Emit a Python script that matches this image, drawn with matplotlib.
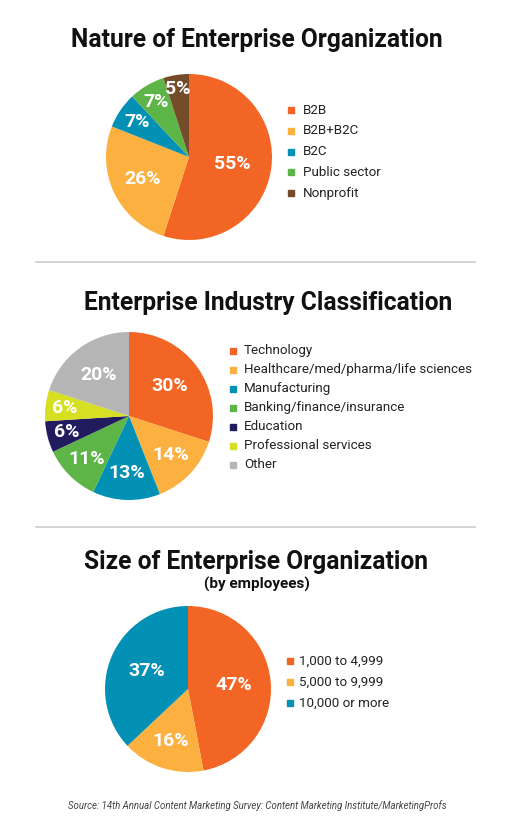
import numpy as np
import matplotlib.pyplot as plt

plt.rcParams['font.family'] = ['Roboto', 'DejaVu Sans']

# data
nature_labels = ['B2B', 'B2B+B2C', 'B2C', 'Public sector', 'Nonprofit']
nature_values = [55, 26, 7, 7, 5]

industry_labels = ['Technology', 'Healthcare/med/pharma/life sciences', 'Manufacturing',
                   'Banking/finance/insurance', 'Education', 'Professional services', 'Other']
industry_values = [30, 14, 13, 11, 6, 6, 20]

size_labels = ['1,000 to 4,999', '5,000 to 9,999', '10,000 or more']
size_values = [47, 16, 37]

ORANGE = '#F26524'
YELLOW = '#FBB040'
BLUE = '#0291B5'
GREEN = '#5DB447'
BROWN = '#754C29'
NAVY = '#201C5E'
LIME = '#D7DF23'
GRAY = '#B5B5B5'

W, H = 506, 830
fig = plt.figure(figsize=(W / 100, H / 100), dpi=100)
ax = fig.add_axes([0, 0, 1, 1])
ax.set_xlim(0, W)
ax.set_ylim(0, H)
ax.set_aspect('equal')
ax.axis('off')


def Y(y):
    # pixel row (from top) -> data y
    return H - y


def draw_pie(values, colors, cx, cy, r, label_dist):
    wedges, _ = ax.pie(values, colors=colors, startangle=90, counterclock=False,
                       center=(cx, Y(cy)), radius=r, frame=True,
                       wedgeprops=dict(linewidth=0))
    for w, v, d in zip(wedges, values, label_dist):
        th = np.deg2rad((w.theta1 + w.theta2) / 2)
        ax.text(cx + r * d * np.cos(th), Y(cy) + r * d * np.sin(th), f'{v}%',
                ha='center', va='center', color='white', fontsize=14,
                fontweight='bold')
    return wedges


def draw_legend(labels, colors, mx, tx, y0, dy):
    for i, (lab, c) in enumerate(zip(labels, colors)):
        y = Y(y0 + i * dy)
        ax.plot(mx, y, marker='s', markersize=4.5, color=c, linestyle='none')
        ax.text(tx, y, lab, ha='left', va='center', fontsize=9.6, color='#222222')


# chart 1
ax.text(257, Y(40), 'Nature of Enterprise Organization', ha='center', va='center',
        fontsize=17.7, fontweight='bold', color='#111111')
draw_pie(nature_values, [ORANGE, YELLOW, BLUE, GREEN, BROWN], 189, 157, 83,
         [0.53, 0.62, 0.76, 0.77, 0.83])
draw_legend(nature_labels, [ORANGE, YELLOW, BLUE, GREEN, BROWN], 291, 303, 110, 20.8)
ax.plot([36, 475], [Y(262), Y(262)], color='#CCCCCC', linewidth=1.2)

# chart 2
ax.text(268, Y(303), 'Enterprise Industry Classification', ha='center', va='center',
        fontsize=17.7, fontweight='bold', color='#111111')
ind_colors = [ORANGE, YELLOW, BLUE, GREEN, NAVY, LIME, GRAY]
draw_pie(industry_values, ind_colors, 129, 416, 84,
         [0.6, 0.68, 0.68, 0.72, 0.77, 0.77, 0.61])
draw_legend(industry_labels, ind_colors, 233, 244, 351, 19.0)
ax.plot([36, 475], [Y(527), Y(527)], color='#CCCCCC', linewidth=1.2)

# chart 3
ax.text(256, Y(562), 'Size of Enterprise Organization', ha='center', va='center',
        fontsize=17.7, fontweight='bold', color='#111111')
ax.text(257, Y(584), '(by employees)', ha='center', va='center',
        fontsize=11, fontweight='bold', color='#111111')
draw_pie(size_values, [ORANGE, YELLOW, BLUE], 188, 689, 83, [0.56, 0.66, 0.54])
draw_legend(size_labels, [ORANGE, YELLOW, BLUE], 290, 299, 661, 21)

ax.text(257, Y(806), 'Source: 14th Annual Content Marketing Survey: Content Marketing Institute/MarketingProfs',
        ha='center', va='center', fontsize=6.9, style='italic', color='#444444')

ax.set_xlim(0, W)
ax.set_ylim(0, H)
ax.axis('off')
fig.savefig('out.png', dpi=100, facecolor='white')
